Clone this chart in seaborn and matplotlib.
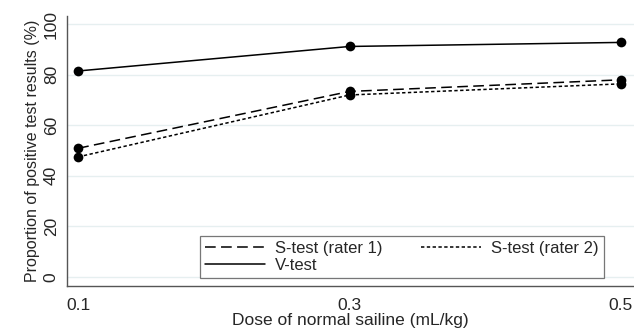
import pandas as pd
import matplotlib
matplotlib.use("Agg")
import matplotlib.pyplot as plt
from matplotlib.lines import Line2D
import seaborn as sns

# values
doses = [0.1, 0.3, 0.5]
s_rater1 = [50.9, 73.4, 78.0]
s_rater2 = [47.5, 72.0, 76.4]
v_test = [81.5, 91.2, 92.8]
series_names = ["S-test (rater 1)", "S-test (rater 2)", "V-test"]

df = pd.DataFrame({
    "dose": doses * 3,
    "pct": s_rater1 + s_rater2 + v_test,
    "test": [n for n in series_names for _ in doses],
})

sns.set_theme(style="white")
plt.rcParams["font.family"] = ["Liberation Sans", "DejaVu Sans"]

fig = plt.figure(figsize=(6.34, 3.31), dpi=100)
ax = fig.add_axes([0.106, 0.136, 0.894, 0.816])

dash_styles = {
    "S-test (rater 1)": (7, 3.5),
    "S-test (rater 2)": (2.2, 1.6),
    "V-test": "",
}
sns.lineplot(data=df, x="dose", y="pct", hue="test", style="test",
             palette=["black"] * 3, dashes=dash_styles,
             markers={n: "o" for n in series_names}, markersize=7,
             markeredgewidth=0, linewidth=1.1, legend=False, ax=ax)

ax.set_xlim(0.0919, 0.5096)
ax.set_ylim(-3.6, 103.3)
ax.set_xticks(doses)
ax.set_xticklabels(["0.1", "0.3", "0.5"])
ax.set_yticks([0, 20, 40, 60, 80, 100])
ax.set_yticklabels(["0", "20", "40", "60", "80", "100"], rotation=90, va="center")
ax.yaxis.grid(True, color="#e6eff0", linewidth=1)
ax.xaxis.grid(False)
for side in ["top", "right"]:
    ax.spines[side].set_visible(False)
for side in ["left", "bottom"]:
    ax.spines[side].set_color("#555555")
    ax.spines[side].set_linewidth(1)
ax.tick_params(axis="both", direction="out", length=4, width=0.8,
               color="#555555", labelsize=12.5, pad=2)
ax.tick_params(axis="x", pad=5)
ax.set_xlabel("Dose of normal sailine (mL/kg)", fontsize=12.5, labelpad=0)
ax.set_ylabel("Proportion of positive test results (%)", fontsize=11.5, labelpad=3)

h_s1 = Line2D([], [], color="black", lw=1.1, dashes=dash_styles["S-test (rater 1)"])
h_s2 = Line2D([], [], color="black", lw=1.1, dashes=dash_styles["S-test (rater 2)"])
h_v = Line2D([], [], color="black", lw=1.1)
# column-wise fill: put V-test second so it lands on row 2, column 1
leg = ax.legend([h_s1, h_v, h_s2], [series_names[0], series_names[2], series_names[1]],
                ncol=2, mode="expand",
                loc="lower left", bbox_to_anchor=(0.235, 0.03, 0.712, 0.19),
                frameon=True, fancybox=False, fontsize=12,
                handlelength=3.6, handletextpad=0.6, labelspacing=0.1,
                borderpad=0.3, borderaxespad=0)
leg.get_frame().set_edgecolor("#555555")
leg.get_frame().set_linewidth(0.9)

fig.savefig("out.png", dpi=100)
